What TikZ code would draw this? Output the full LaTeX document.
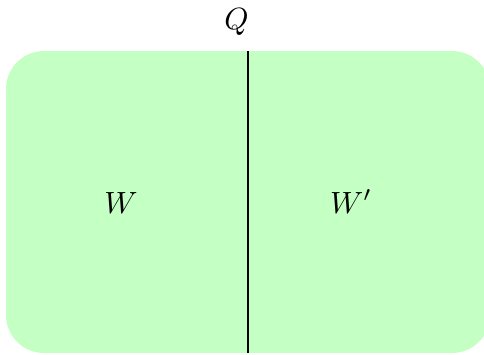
\documentclass[tikz,border=0pt]{standalone}
\begin{document}
\begin{tikzpicture}[x=1pt,y=-1pt,
  lbl/.style={scale=3.07, inner sep=0pt, anchor=base}]
\useasboundingbox (0,0) rectangle (484,354);
\begin{scope}
\clip (0,0) rectangle (484,354);
\fill[green!23, rounded corners=38pt] (6,51) rectangle (490,353);
\end{scope}
\coordinate (top) at (248,51);
\coordinate (bot) at (248,353);
\draw[line width=1.8pt] (top) -- (bot);
\node[lbl] (q) at (236.5,29) {$Q$};
\node[lbl] (w) at (121,213) {$W$};
\node[lbl] (wp) at (351,213) {$W'$};
\end{tikzpicture}
\end{document}
